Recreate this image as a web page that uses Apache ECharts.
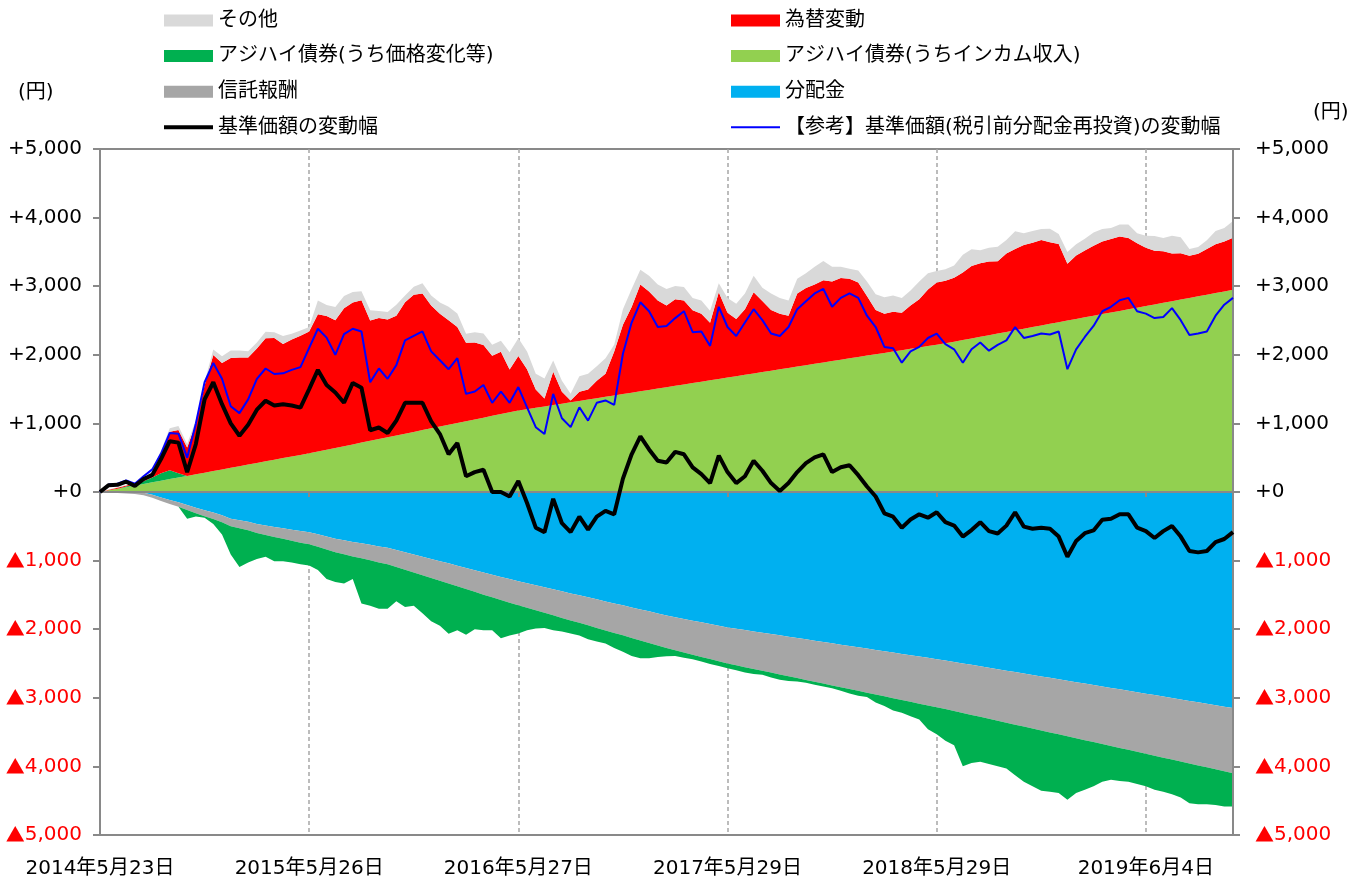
<!DOCTYPE html>
<html><head><meta charset="utf-8">
<script src="https://cdn.jsdelivr.net/npm/echarts@6/dist/echarts.min.js"></script>
<style>html,body{margin:0;padding:0;background:#fff}#c{width:1365px;height:877px}</style>
</head><body><div id="c"></div>
<script>
// x-axis tick labels (one every 24 half-month points)
const tickLabels = ['2014年5月23日','2015年5月26日','2016年5月27日','2017年5月29日','2018年5月29日','2019年6月4日'];

// アジハイ債券(うちインカム収入)
const income = [
0,24,47,71,94,118,141,165,188,212,
235,259,282,306,329,353,376,400,423,447,
470,494,517,541,564,590,616,642,668,694,
720,746,772,798,824,850,876,902,928,954,
980,1006,1032,1058,1084,1110,1136,1162,1188,1208,
1228,1248,1268,1288,1308,1328,1348,1368,1388,1408,
1428,1448,1468,1488,1508,1528,1548,1568,1588,1608,
1628,1648,1668,1688,1708,1728,1748,1768,1788,1808,
1828,1848,1868,1888,1908,1928,1948,1968,1988,2008,
2028,2048,2068,2088,2108,2128,2148,2168,2192,2215,
2239,2263,2286,2310,2333,2357,2381,2404,2428,2451,
2475,2499,2522,2546,2569,2593,2617,2640,2664,2687,
2711,2735,2758,2782,2805,2829,2853,2876,2900,2923,
2947];

// 分配金
const distribution = [
0,0,0,0,0,-10,-40,-80,-117,-150,
-190,-228,-265,-300,-340,-390,-410,-435,-465,-488,
-510,-530,-550,-570,-585,-615,-650,-680,-705,-728,
-748,-770,-793,-812,-845,-878,-910,-943,-975,-1010,
-1040,-1075,-1108,-1140,-1175,-1205,-1238,-1270,-1300,-1330,
-1360,-1390,-1418,-1448,-1478,-1505,-1535,-1565,-1595,-1625,
-1652,-1682,-1712,-1740,-1770,-1800,-1825,-1850,-1875,-1900,
-1925,-1950,-1975,-1994,-2013,-2033,-2052,-2071,-2090,-2110,
-2129,-2148,-2168,-2187,-2206,-2225,-2245,-2264,-2283,-2303,
-2322,-2341,-2360,-2380,-2399,-2418,-2438,-2457,-2478,-2499,
-2520,-2541,-2562,-2583,-2604,-2625,-2646,-2667,-2688,-2709,
-2730,-2751,-2772,-2793,-2814,-2835,-2856,-2877,-2898,-2919,
-2940,-2961,-2982,-3003,-3024,-3045,-3066,-3087,-3108,-3129,
-3150];

// 信託報酬
const fee = [
0,-7,-15,-22,-29,-37,-44,-51,-58,-66,
-73,-80,-88,-95,-102,-110,-117,-124,-131,-139,
-146,-153,-161,-168,-175,-183,-190,-197,-204,-212,
-219,-226,-234,-241,-248,-256,-263,-270,-277,-285,
-292,-299,-307,-314,-321,-329,-336,-343,-350,-358,
-365,-372,-380,-387,-394,-402,-409,-416,-423,-431,
-438,-445,-453,-460,-467,-475,-482,-489,-496,-504,
-511,-518,-526,-533,-540,-548,-555,-562,-569,-577,
-584,-591,-599,-606,-613,-621,-628,-635,-642,-650,
-657,-664,-672,-679,-686,-694,-701,-708,-715,-723,
-730,-737,-745,-752,-759,-767,-774,-781,-788,-796,
-803,-810,-818,-825,-832,-840,-847,-854,-861,-869,
-876,-883,-891,-898,-905,-913,-920,-927,-934,-942,
-949];

// アジハイ債券(うち価格変化等)
const priceChange = [
0,0,0,10,20,40,70,110,130,60,
-127,-50,-24,-73,-176,-410,-565,-468,-379,-316,
-352,-325,-316,-315,-313,-340,-428,-436,-424,-328,
-658,-662,-676,-650,-500,-543,-485,-555,-633,-655,
-735,-641,-665,-548,-519,-481,-558,-480,-411,-327,
-264,-221,-217,-200,-189,-186,-201,-197,-192,-219,
-237,-265,-260,-225,-168,-120,-85,-79,-67,-66,
-73,-67,-67,-73,-80,-71,-58,-71,-78,-69,
-50,-43,-41,-41,-41,-53,-65,-72,-65,-115,
-141,-180,-186,-211,-230,-346,-391,-462,-499,-776,
-702,-655,-658,-663,-667,-736,-805,-842,-879,-863,
-855,-924,-798,-724,-644,-550,-490,-481,-466,-470,
-474,-498,-495,-506,-524,-579,-564,-536,-521,-512,
-484];

// 為替変動
const fx = [
0,10,15,15,10,20,80,285,560,630,
415,740,1270,1690,1550,1600,1585,1560,1670,1795,
1775,1665,1705,1735,1775,2000,1950,1860,2010,2070,
2075,1755,1765,1715,1745,1915,2000,1990,1790,1645,
1525,1400,1145,1120,1060,875,910,625,795,580,
265,115,485,175,25,135,145,255,335,640,
1010,1250,1555,1435,1285,1190,1260,1225,1060,990,
840,1265,945,835,955,1185,1035,885,810,760,
1065,1125,1155,1200,1160,1190,1160,1085,870,645,
570,580,545,630,700,825,905,910,930,985,
1055,1070,1075,1055,1145,1185,1220,1230,1245,1190,
1140,830,925,975,1020,1060,1070,1085,1040,940,
850,780,750,695,675,615,620,665,710,730,
760];

// その他
const other = [
0,5,5,10,10,15,20,40,50,60,
50,50,50,80,100,110,100,90,85,95,
85,115,85,80,65,200,160,195,180,150,
130,150,100,110,160,100,115,150,145,165,
195,195,130,150,165,160,160,250,260,260,
230,290,165,160,100,225,230,210,225,100,
225,260,215,230,230,240,195,195,180,195,
175,130,215,220,230,240,195,240,230,225,
215,215,260,280,215,165,145,175,210,230,
240,235,215,220,260,235,170,170,180,260,
245,190,200,210,195,260,170,170,160,195,
145,170,165,170,195,180,160,175,195,145,
175,215,195,260,235,100,100,130,195,195,
245];

// 基準価額の変動幅
const nav = [
0,100,105,150,90,190,250,480,740,720,
290,700,1350,1600,1280,1000,820,980,1200,1330,
1260,1280,1260,1230,1500,1780,1560,1450,1300,1590,
1520,900,940,860,1040,1300,1300,1300,1030,845,
550,715,230,290,325,0,0,-65,160,-160,
-520,-585,-100,-455,-585,-360,-550,-360,-275,-325,
195,550,810,620,455,430,585,550,360,260,
130,530,290,130,230,455,310,130,15,130,
290,420,505,550,290,360,390,245,80,-65,
-310,-360,-520,-400,-325,-375,-295,-440,-490,-650,
-555,-440,-570,-605,-490,-295,-505,-535,-520,-535,
-650,-945,-715,-600,-560,-405,-390,-325,-325,-520,
-570,-670,-570,-495,-650,-860,-880,-860,-730,-685,
-585];

// 【参考】基準価額(税引前分配金再投資)の変動幅
const navReinvest = [
0,110,120,170,120,230,330,560,860,850,
500,1000,1600,1880,1650,1250,1150,1350,1650,1800,
1720,1730,1780,1820,2100,2380,2250,2000,2300,2380,
2340,1600,1800,1650,1850,2210,2275,2340,2050,1920,
1790,1950,1430,1465,1560,1300,1465,1300,1530,1235,
945,845,1430,1075,945,1235,1040,1300,1335,1270,
2015,2470,2765,2635,2405,2420,2535,2635,2330,2340,
2130,2700,2405,2275,2470,2665,2505,2310,2275,2405,
2665,2780,2895,2960,2700,2830,2895,2830,2570,2405,
2115,2095,1885,2050,2115,2245,2310,2155,2080,1885,
2080,2180,2060,2145,2210,2405,2245,2275,2310,2295,
2340,1790,2080,2260,2420,2635,2700,2795,2830,2635,
2600,2535,2550,2680,2505,2290,2310,2340,2570,2730,
2830];

const F = "'DejaVu Sans','Noto Sans CJK JP',sans-serif";
const FJ = "'Noto Sans CJK JP',sans-serif";
const N_OTHER = 'その他', N_FX = '為替変動', N_PC = 'アジハイ債券(うち価格変化等)',
      N_INC = 'アジハイ債券(うちインカム収入)', N_FEE = '信託報酬', N_DIST = '分配金',
      N_NAV = '基準価額の変動幅', N_REF = '【参考】基準価額(税引前分配金再投資)の変動幅';

const categories = income.map((_, i) => i % 24 === 0 ? tickLabels[i / 24] : 'p' + i);
const pcNeg = priceChange.map(v => v < 0 ? v : 0);
const pcPos = priceChange.map(v => v > 0 ? v : 0);

function fmt(n) { return String(n).replace(/\B(?=(\d{3})+(?!\d))/g, ','); }
function yFmt(v) {
  if (v < 0) return '{t|▲}{n|' + fmt(-v) + '}';
  return '+' + fmt(v);
}
function area(name, data, color) {
  return { name, type: 'line', stack: 'total', data, symbol: 'none', showSymbol: false,
    lineStyle: { width: 0 }, areaStyle: { color, opacity: 1 }, itemStyle: { color }, color,
    emphasis: { disabled: true }, silent: true, z: 2 };
}
function yAx(pos, margin) {
  return { type: 'value', position: pos, min: -5000, max: 5000, interval: 1000,
    axisLine: { show: true, lineStyle: { color: '#898989', width: 2 } },
    axisTick: { show: true, length: 7, lineStyle: { color: '#898989', width: 2 } },
    splitLine: { show: false },
    axisLabel: { margin, fontSize: 20, fontFamily: F, color: '#000', formatter: yFmt,
      rich: { t: { color: '#ff0000', fontSize: 19, fontFamily: FJ },
              n: { color: '#ff0000', fontSize: 20, fontFamily: F } } },
    z: 3 };
}
const legendCommon = { orient: 'vertical', padding: 0, itemWidth: 49, itemHeight: 12, itemGap: 15.6,
  itemStyle: { borderWidth: 0 }, selectedMode: false,
  textStyle: { fontSize: 20, fontFamily: F, color: '#000' } };

const chart = echarts.init(document.getElementById('c'), null, { renderer: 'canvas' });
chart.setOption({
  animation: false,
  backgroundColor: '#fff',
  grid: { left: 100, right: 132, top: 149, bottom: 42, show: true, borderColor: '#898989', borderWidth: 2,
    containLabel: false, outerBoundsMode: 'none' },
  legend: [
    Object.assign({ left: 164, top: 10.5, data: [
      { name: N_OTHER, icon: 'rect' }, { name: N_PC, icon: 'rect' }, { name: N_FEE, icon: 'rect' },
      { name: N_NAV, icon: 'path://M0,0H48V4H0Z' } ] }, legendCommon),
    Object.assign({ left: 731, top: 10.5, data: [
      { name: N_FX, icon: 'rect' }, { name: N_INC, icon: 'rect' }, { name: N_DIST, icon: 'rect' },
      { name: N_REF, icon: 'path://M0,0H48V2H0Z' } ] }, legendCommon)
  ],
  xAxis: [
    { type: 'category', data: categories, boundaryGap: false, position: 'bottom',
      axisLine: { onZero: false, lineStyle: { color: '#898989', width: 2 } },
      axisTick: { show: false },
      axisLabel: { interval: 23, margin: 24, fontSize: 20, fontFamily: F, color: '#000' },
      splitLine: { show: true, interval: 23, lineStyle: { color: '#a6a6a6', type: [4, 3], width: 1.5 } } },
    { type: 'category', data: categories, boundaryGap: false, position: 'bottom',
      axisLine: { onZero: true, lineStyle: { color: '#898989', width: 2 } },
      axisTick: { show: true, interval: 23, length: 5, lineStyle: { color: '#898989', width: 2 } },
      axisLabel: { show: false }, splitLine: { show: false }, z: 3 }
  ],
  yAxis: [ yAx('left', 18), yAx('right', 22) ],
  graphic: [
    { type: 'text', x: 18, y: 93, style: { text: '(円)', fontSize: 20, fontFamily: F, fill: '#000', verticalAlign: 'middle' } },
    { type: 'text', x: 1313, y: 113, style: { text: '(円)', fontSize: 20, fontFamily: F, fill: '#000', verticalAlign: 'middle' } }
  ],
  series: [
    area(N_DIST, distribution, '#00b0f0'),
    area(N_FEE, fee, '#a6a6a6'),
    area(N_PC, pcNeg, '#00b050'),
    area(N_INC, income, '#92d050'),
    area(N_PC, pcPos, '#00b050'),
    area(N_FX, fx, '#ff0000'),
    area(N_OTHER, other, '#d9d9d9'),
    { name: N_REF, type: 'line', data: navReinvest, symbol: 'none', showSymbol: false, color: '#0000ff',
      lineStyle: { color: '#0000ff', width: 2 }, itemStyle: { color: '#0000ff' }, silent: true, z: 5 },
    { name: N_NAV, type: 'line', data: nav, symbol: 'none', showSymbol: false, color: '#000000',
      lineStyle: { color: '#000000', width: 4 }, itemStyle: { color: '#000000' }, silent: true, z: 6 }
  ]
});
</script>
</body></html>
